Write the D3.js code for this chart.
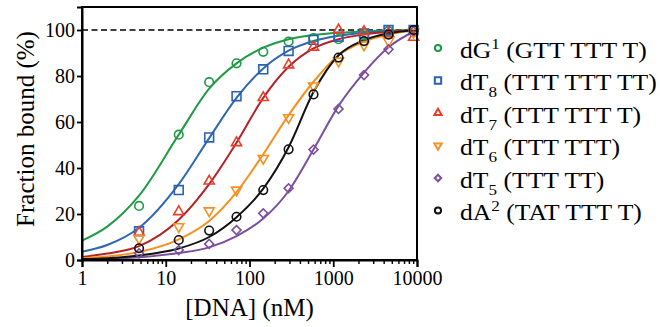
<!DOCTYPE html>
<html>
<head>
<meta charset="utf-8">
<script src="https://cdn.jsdelivr.net/npm/d3@7"></script>
<style>
  body { margin: 0; background: #fff; }
</style>
</head>
<body>
<svg id="chart" width="660" height="327"></svg>
<script>
// measured DNA concentrations (nM)
let conc = [4.8, 14.3, 33, 70, 146, 293, 581, 1156, 2330, 4570, 9100];

// fraction bound (%) of each probe
let dG1 = [23.5, 54.5, 77.3, 85.5, 90.5, 95, 96.5, 96, 97.5, 99.5, 100];
let dT8 = [12.5, 30.4, 53.3, 71.2, 82.9, 90.9, 95.7, 97.1, 98.5, 100, 100];
let dT7 = [12, 21, 34.3, 51, 70.6, 84.8, 92.5, 100, 99.3, 98.5, 96.8];
let dT6 = [9.4, 14.5, 21.4, 30.4, 44.2, 61.9, 75.7, 86.5, 93.5, 95.2, 99];
let dT5 = [2.9, 4.3, 7, 13, 20.3, 31.2, 48, 65.7, 80.4, 91.6, 99.5];
let dA2 = [5.1, 8.7, 12.8, 18.8, 30.4, 48.1, 72, 88, 95.2, 98, 100];

// fitted curves
let fitX = [1, 2, 4.8, 14.3, 33, 70, 146, 293, 581, 1156, 2330, 4570, 10000];
let fitG1 = [8.4, 14.5, 28, 54.5, 74.5, 85.5, 92.3, 96, 97.8, 98.8, 99.4, 99.7, 100];
let fitT8 = [3.6, 6.5, 14, 33, 53, 70.5, 83.3, 91, 95.2, 97.5, 98.8, 99.4, 100];
let fitT7 = [1.3, 2.8, 6, 17.5, 33, 51, 70.5, 84, 92, 96, 98, 99.2, 100];
let fitT6 = [0.8, 1.5, 3.5, 9, 17, 29.5, 46, 63, 77.5, 89, 95, 98, 100];
let fitT5 = [0.2, 0.4, 1.2, 3, 5.5, 10.4, 18, 30, 48, 67, 81.5, 92.5, 100];
let fitA2 = [0.4, 0.8, 2, 5, 10, 18.6, 31, 49, 73, 89, 95.6, 98.5, 100];

let xTicks = [1, 10, 100, 1000, 10000];
let yTicks = [0, 20, 40, 60, 80, 100];

let series = [
  {key: "dG", sup: "1", sub: null, seq: "(GTT TTT T)", pts: dG1, fit: fitG1, mark: "#1f9a45", line: "#1f9a45", sym: "circle"},
  {key: "dT", sup: null, sub: "8", seq: "(TTT TTT TT)", pts: dT8, fit: fitT8, mark: "#2a62b3", line: "#2e68b2", sym: "square"},
  {key: "dT", sup: null, sub: "7", seq: "(TTT TTT T)", pts: dT7, fit: fitT7, mark: "#ea3d2a", line: "#b52228", sym: "up"},
  {key: "dT", sup: null, sub: "6", seq: "(TTT TTT)", pts: dT6, fit: fitT6, mark: "#f7901e", line: "#f7901e", sym: "down"},
  {key: "dT", sup: null, sub: "5", seq: "(TTT TT)", pts: dT5, fit: fitT5, mark: "#7c4f9e", line: "#7c4f9e", sym: "diamond"},
  {key: "dA", sup: "2", sub: null, seq: "(TAT TTT T)", pts: dA2, fit: fitA2, mark: "#111111", line: "#111111", sym: "circle"}
];

let font = "Liberation Serif";
let margin = {top: 7, left: 82};
let width = 335, height = 253;

let svg = d3.select("#chart").attr("font-family", font);
let g = svg.append("g").attr("transform", `translate(${margin.left},${margin.top})`);

let x = d3.scaleLog().domain([1, 10000]).range([0, width]);
let y = d3.scaleLinear().domain([0, 110]).range([height, 0]);

// dashed 100% line
g.append("line")
  .attr("x1", 0).attr("x2", width)
  .attr("y1", y(100)).attr("y2", y(100))
  .attr("stroke", "#000").attr("stroke-width", 1.6)
  .attr("stroke-dasharray", "6,3.5");

// curves
let line = d3.line()
  .x((d, i) => x(fitX[i]))
  .y(d => y(d))
  .curve(d3.curveMonotoneX);

series.forEach(s => {
  g.append("path")
    .datum(s.fit)
    .attr("d", line)
    .attr("fill", "none")
    .attr("stroke", s.line)
    .attr("stroke-width", 2);
});

function symPath(sym, big) {
  let k = big ? 1 : 0.72;
  if (sym == "circle") return d3.symbol(d3.symbolCircle, 58 * k * k)();
  if (sym == "square") return d3.symbol(d3.symbolSquare, 78 * k * k)();
  if (sym == "up" || sym == "down") return d3.symbol(d3.symbolTriangle, 44 * k * k)();
  return d3.symbol(d3.symbolSquare, 40 * k * k)();
}
function symRot(sym) {
  if (sym == "down") return " rotate(180)";
  if (sym == "diamond") return " rotate(45)";
  return "";
}

series.forEach(s => {
  g.append("g").selectAll("path")
    .data(s.pts)
    .join("path")
    .attr("d", symPath(s.sym, true))
    .attr("transform", (d, i) => `translate(${x(conc[i])},${y(d)})` + symRot(s.sym))
    .attr("fill", "none")
    .attr("stroke", s.mark)
    .attr("stroke-width", 1.6);
});

// frame
g.append("rect")
  .attr("width", width).attr("height", height)
  .attr("fill", "none").attr("stroke", "#000").attr("stroke-width", 2);

// axes
let minor = [];
for (let e = 0; e < 4; e++) for (let m = 2; m < 10; m++) minor.push(m * Math.pow(10, e));

g.append("g")
  .attr("transform", `translate(0,${height})`)
  .call(d3.axisBottom(x).tickValues(minor).tickSize(4).tickFormat(""))
  .call(a => a.select(".domain").remove())
  .selectAll("line").attr("stroke-width", 1.4);

let xAx = g.append("g")
  .attr("transform", `translate(0,${height})`)
  .call(d3.axisBottom(x).tickValues(xTicks).tickSize(7).tickPadding(4).tickFormat(d3.format("d")))
  .attr("font-family", font);
xAx.select(".domain").attr("stroke-width", 2);
xAx.selectAll("line").attr("stroke-width", 1.8);
xAx.selectAll("text").attr("font-size", 20).attr("font-family", font).attr("fill", "#000");

let yAx = g.append("g")
  .call(d3.axisLeft(y).tickValues(yTicks).tickSize(5).tickPadding(2))
  .attr("font-family", font);
yAx.select(".domain").attr("stroke-width", 2);
yAx.selectAll("line").attr("stroke-width", 1.8);
yAx.selectAll("text").attr("font-size", 20).attr("font-family", font).attr("fill", "#000");

// titles
svg.append("text")
  .attr("x", margin.left + width / 2).attr("y", 316)
  .attr("text-anchor", "middle").attr("font-size", 25).attr("font-family", font)
  .text("[DNA] (nM)");

svg.append("text")
  .attr("transform", "translate(34,129) rotate(-90)")
  .attr("text-anchor", "middle").attr("font-size", 25).attr("font-family", font)
  .text("Fraction bound (%)");

// legend (text is a bit stretched sideways in the original)
let leg = svg.append("g").attr("transform", "translate(438,48)");
series.forEach((s, i) => {
  let row = leg.append("g").attr("transform", `translate(0,${i * 32.5})`);
  row.append("path")
    .attr("d", symPath(s.sym, false))
    .attr("transform", symRot(s.sym).trim())
    .attr("fill", "none").attr("stroke", s.mark).attr("stroke-width", 2);
  let t = row.append("text").attr("transform", "translate(22,9.5) scale(1.14,1)")
    .attr("font-size", 22.5).attr("font-family", font).attr("fill", "#000");
  t.append("tspan").text(s.key);
  if (s.sup) t.append("tspan").attr("font-size", 15).attr("dy", -9).text(s.sup);
  if (s.sub) t.append("tspan").attr("font-size", 15).attr("dy", 7).text(s.sub);
  t.append("tspan").attr("dy", s.sup ? 9 : (s.sub ? -7 : 0)).text(" " + s.seq);
});
</script>
</body>
</html>
